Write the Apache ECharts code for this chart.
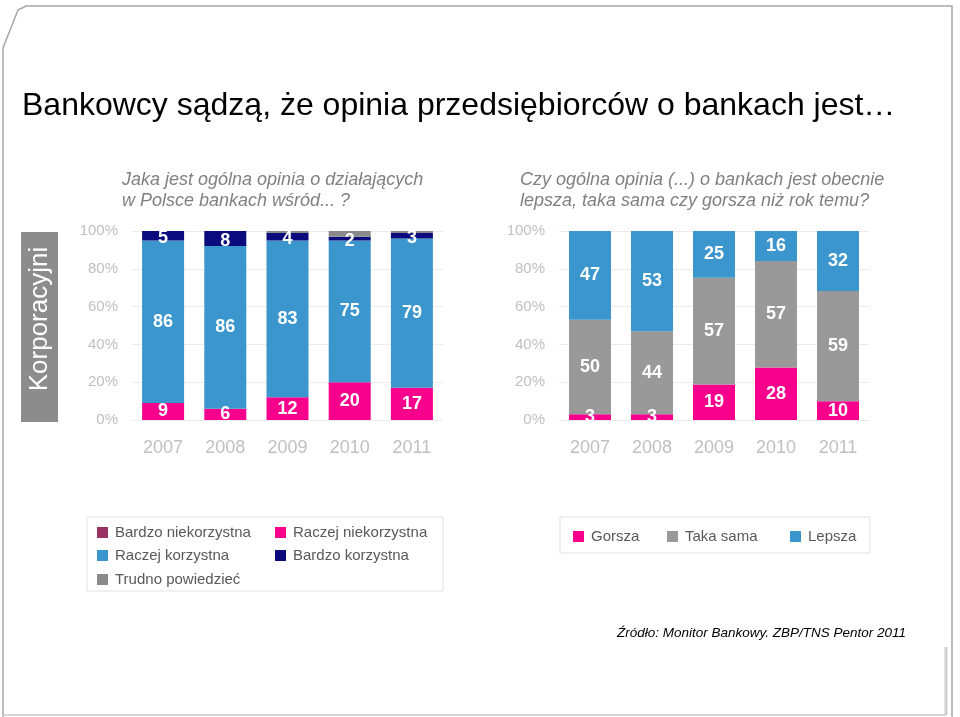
<!DOCTYPE html>
<html>
<head>
<meta charset="utf-8">
<script src="https://cdn.jsdelivr.net/npm/echarts@6/dist/echarts.min.js"></script>
<style>html,body{margin:0;padding:0;background:#fff;}#c{width:960px;height:717px;}</style>
</head>
<body>
<div id="c"></div>
<script>
// ---- data ----
const years = ['2007', '2008', '2009', '2010', '2011'];
// left chart: "Jaka jest ogólna opinia..." (bottom to top)
const bardzoNiekorzystna = [0, 0, 0, 0, 0];
const raczejNiekorzystna = [9, 6, 12, 20, 17];
const raczejKorzystna = [86, 86, 83, 75, 79];
const bardzoKorzystna = [5, 8, 4, 2, 3];
const trudnoPowiedziec = [0, 0, 1, 3, 1];
// right chart: "Czy ogólna opinia ... lepsza, taka sama czy gorsza" (bottom to top)
const gorsza = [3, 3, 19, 28, 10];
const takaSama = [50, 44, 57, 57, 59];
const lepsza = [47, 53, 25, 16, 32];

const FONT = '"Liberation Sans", Arial, sans-serif';
const leftSets = [bardzoNiekorzystna, raczejNiekorzystna, raczejKorzystna, bardzoKorzystna, trudnoPowiedziec];
const rightSets = [gorsza, takaSama, lepsza];
function shares(sets, arr) {
  return arr.map((v, i) => {
    const tot = sets.reduce((s, a) => s + a[i], 0);
    return { value: v / tot * 100, raw: v };
  });
}
function lbl(offY) {
  return {
    show: true, position: 'inside', color: '#fff', fontWeight: 'bold',
    fontSize: 18, fontFamily: FONT, formatter: p => p.data.raw, offset: [0, offY || 0]
  };
}
function bar(name, arr, sets, color, idx, showLabel, offY) {
  return {
    name: name, type: 'bar', stack: 's' + idx, xAxisIndex: idx, yAxisIndex: idx,
    barWidth: 42, data: shares(sets, arr),
    itemStyle: { color: color },
    label: showLabel ? lbl(offY) : { show: false },
    emphasis: { disabled: true }
  };
}
const C = {
  maroon: '#993366', pink: '#F7008C', blue: '#3A96CC', navy: '#0B0B7E',
  gray1: '#8A8A8A', gray2: '#999999'
};

const gridTop = 231, gridH = 189;
function xAx(i) {
  return {
    type: 'category', gridIndex: i, data: years,
    axisLine: { show: false }, axisTick: { show: false },
    axisLabel: { color: '#c0c0c0', fontSize: 18, fontFamily: FONT, margin: 19 }
  };
}
function yAx(i) {
  return {
    type: 'value', gridIndex: i, min: 0, max: 100, interval: 20,
    axisLine: { show: false }, axisTick: { show: false },
    axisLabel: { color: '#c0c0c0', fontSize: 15, fontFamily: FONT, formatter: '{value}%', margin: 14 },
    splitLine: { lineStyle: { color: '#ececec', width: 1 } }
  };
}
function leg(name, x, y) {
  return {
    data: [name], left: x, top: y, itemWidth: 11, itemHeight: 11, icon: 'rect',
    padding: 0, selectedMode: false,
    textStyle: { color: '#595959', fontSize: 15, fontFamily: FONT, padding: [0, 0, 0, 2] }
  };
}

const option = {
  animation: false,
  backgroundColor: '#fff',
  grid: [
    { left: 132, top: gridTop, width: 311, height: gridH },
    { left: 559, top: gridTop, width: 310, height: gridH }
  ],
  xAxis: [xAx(0), xAx(1)],
  yAxis: [yAx(0), yAx(1)],
  legend: [
    leg('Bardzo niekorzystna', 97, 525),
    leg('Raczej niekorzystna', 275, 525),
    leg('Raczej korzystna', 97, 548),
    leg('Bardzo korzystna', 275, 548),
    leg('Trudno powiedzieć', 97, 572),
    leg('Gorsza', 573, 529),
    leg('Taka sama', 667, 529),
    leg('Lepsza', 790, 529)
  ],
  series: [
    bar('Bardzo niekorzystna', bardzoNiekorzystna, leftSets, C.maroon, 0, false),
    bar('Raczej niekorzystna', raczejNiekorzystna, leftSets, C.pink, 0, true),
    bar('Raczej korzystna', raczejKorzystna, leftSets, C.blue, 0, true),
    bar('Bardzo korzystna', bardzoKorzystna, leftSets, C.navy, 0, true, 2),
    bar('Trudno powiedzieć', trudnoPowiedziec, leftSets, C.gray1, 0, false),
    bar('Gorsza', gorsza, rightSets, C.pink, 1, true),
    bar('Taka sama', takaSama, rightSets, C.gray2, 1, true),
    bar('Lepsza', lepsza, rightSets, C.blue, 1, true)
  ],
  graphic: [
    { type: 'polyline', silent: true, z: -1,
      shape: { points: [[3, 717], [3, 48], [18, 10], [26, 6], [952, 6], [952, 717]] },
      style: { stroke: '#a6a6a6', fill: null, lineWidth: 1.5 } },
    { type: 'line', silent: true, shape: { x1: 3, y1: 715, x2: 946, y2: 715 },
      style: { stroke: '#c8c8c8', lineWidth: 1.5 } },
    { type: 'line', silent: true, shape: { x1: 946, y1: 647, x2: 946, y2: 715 },
      style: { stroke: '#d0d0d0', lineWidth: 3 } },
    { type: 'text', silent: true,
      style: { x: 22, y: 106, text: 'Bankowcy sądzą, że opinia przedsiębiorców o bankach jest…',
        font: '32px ' + FONT, fill: '#000', verticalAlign: 'middle' } },
    { type: 'text', silent: true,
      style: { x: 122, y: 190, text: 'Jaka jest ogólna opinia o działających\nw Polsce bankach wśród... ?',
        font: 'italic 18px ' + FONT, fill: '#808080', verticalAlign: 'middle', lineHeight: 21 } },
    { type: 'text', silent: true,
      style: { x: 520, y: 190, text: 'Czy ogólna opinia (...) o bankach jest obecnie\nlepsza, taka sama czy gorsza niż rok temu?',
        font: 'italic 18px ' + FONT, fill: '#808080', verticalAlign: 'middle', lineHeight: 21 } },
    { type: 'rect', silent: true, shape: { x: 21, y: 232, width: 37, height: 190 },
      style: { fill: '#8c8c8c' } },
    { type: 'text', silent: true, x: 40, y: 319, rotation: Math.PI / 2,
      style: { x: 0, y: 0, text: 'Korporacyjni', font: '26px ' + FONT, fill: '#fff',
        align: 'center', verticalAlign: 'middle' } },
    { type: 'rect', silent: true, z: -1, shape: { x: 87, y: 517, width: 356, height: 74 },
      style: { fill: '#fff', stroke: '#e2e2e2', lineWidth: 1 } },
    { type: 'rect', silent: true, z: -1, shape: { x: 560, y: 517, width: 310, height: 36 },
      style: { fill: '#fff', stroke: '#e2e2e2', lineWidth: 1 } },
    { type: 'text', silent: true,
      style: { x: 617, y: 633, text: 'Źródło: Monitor Bankowy. ZBP/TNS Pentor 2011',
        font: 'italic 13.5px ' + FONT, fill: '#000', verticalAlign: 'middle' } }
  ]
};
const chart = echarts.init(document.getElementById('c'), null, { renderer: 'canvas' });
chart.setOption(option);
</script>
</body>
</html>
